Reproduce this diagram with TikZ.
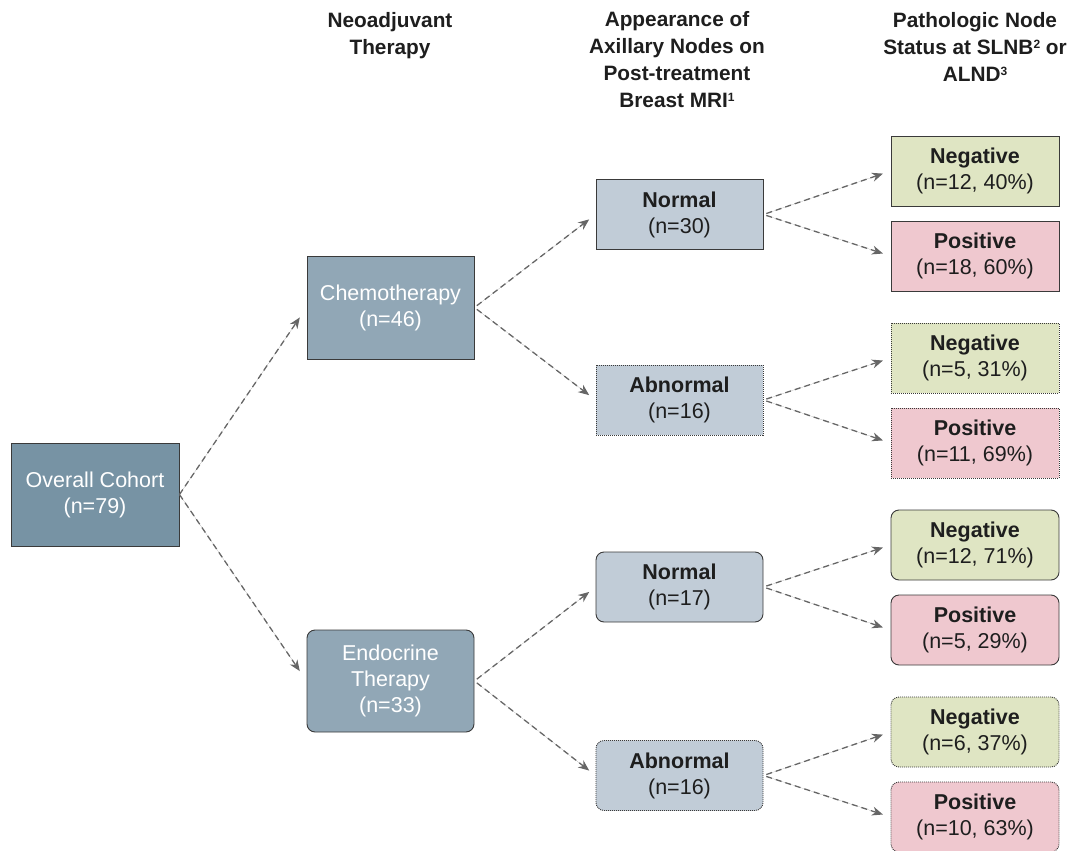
\documentclass[tikz,border=0pt]{standalone}
\usepackage{fontspec}
\setmainfont{Liberation Sans}
\usepackage{tikz}
\usetikzlibrary{arrows.meta}
\definecolor{cohortfill}{HTML}{7793A4}
\definecolor{therapyfill}{HTML}{91A7B6}
\definecolor{mrifill}{HTML}{C1CCD7}
\definecolor{negfill}{HTML}{DFE5C3}
\definecolor{posfill}{HTML}{EFC8CF}
\definecolor{boxline}{HTML}{3A3A3A}
\definecolor{arrowgray}{HTML}{666666}
\definecolor{inktext}{HTML}{1E1E1E}
\newcommand{\noteref}[1]{\raisebox{0.55ex}{\fontsize{12}{12}\selectfont #1}}

\begin{document}
\begin{tikzpicture}[x=1pt,y=-1pt,>={Stealth[length=11pt,width=9pt]},
                    font=\fontsize{21.5}{26}\selectfont]
\tikzstyle{box}=[draw=boxline,line width=0.9pt,inner sep=0pt,align=center,
                 minimum width=167pt]
\tikzstyle{bigbox}=[box,minimum height=103pt,fill=therapyfill,text=white]
\tikzstyle{smallbox}=[box,minimum height=70pt,text=inktext]
\tikzstyle{mribox}=[smallbox,fill=mrifill]
\tikzstyle{negbox}=[smallbox,fill=negfill,minimum width=168pt]
\tikzstyle{posbox}=[smallbox,fill=posfill,minimum width=168pt]
\tikzstyle{dots}=[dash pattern=on 1pt off 1pt]
\tikzstyle{soft}=[rounded corners=8pt]
\tikzstyle{flow}=[->,draw=arrowgray,fill=arrowgray,line width=1.3pt,
                  dash pattern=on 6pt off 4pt,shorten <=3pt,shorten >=8pt]
\tikzstyle{header}=[font=\fontsize{20.8}{27}\selectfont\bfseries,align=center,
                    text=inktext]
\useasboundingbox (0,0) rectangle (1071,851);

% column titles
\node[header] (hdrtherapy) at (390,36) {Neoadjuvant\\Therapy};
\node[header] (hdrmri) at (677,60) {Appearance of\\Axillary Nodes on\\Post-treatment\\Breast MRI\noteref{1}};
\node[header] (hdrpath) at (975,47) {Pathologic Node\\Status at SLNB\noteref{2} or\\ALND\noteref{3}};

% tree
\node[bigbox,fill=cohortfill,minimum width=168pt] (cohort) at (95,494.5) {Overall Cohort\\(n=79)};
\node[bigbox] (chemo) at (390.5,307.5) {Chemotherapy\\(n=46)};
\node[bigbox,soft,minimum height=102pt] (endo) at (390.5,681) {Endocrine\\Therapy\\(n=33)};

\node[mribox] (normA) at (679.5,214.5) {\textbf{Normal}\\(n=30)};
\node[mribox,dots] (abnA) at (679.5,400) {\textbf{Abnormal}\\(n=16)};
\node[mribox,soft] (normB) at (679.5,587) {\textbf{Normal}\\(n=17)};
\node[mribox,soft,dots] (abnB) at (679.5,775.5) {\textbf{Abnormal}\\(n=16)};

\node[negbox] (negA) at (975,171) {\textbf{Negative}\\(n=12, 40\%)};
\node[posbox] (posA) at (975,256) {\textbf{Positive}\\(n=18, 60\%)};
\node[negbox,dots] (negB) at (975,358) {\textbf{Negative}\\(n=5, 31\%)};
\node[posbox,dots] (posB) at (975,443) {\textbf{Positive}\\(n=11, 69\%)};
\node[negbox,soft] (negC) at (975,545) {\textbf{Negative}\\(n=12, 71\%)};
\node[posbox,soft] (posC) at (975,630) {\textbf{Positive}\\(n=5, 29\%)};
\node[negbox,soft,dots] (negD) at (975,732) {\textbf{Negative}\\(n=6, 37\%)};
\node[posbox,soft,dots] (posD) at (975,817) {\textbf{Positive}\\(n=10, 63\%)};

\draw[flow,shorten <=0pt,shorten >=12pt] (cohort.east) -- (chemo.west);
\draw[flow,shorten <=0pt,shorten >=12pt] (cohort.east) -- (endo.west);
\draw[flow] (chemo.east) -- (normA.west);
\draw[flow] (chemo.east) -- (abnA.west);
\draw[flow] (endo.east) -- (normB.west);
\draw[flow] (endo.east) -- (abnB.west);
\draw[flow] (normA.east) -- (negA.west);
\draw[flow] (normA.east) -- (posA.west);
\draw[flow] (abnA.east) -- (negB.west);
\draw[flow] (abnA.east) -- (posB.west);
\draw[flow] (normB.east) -- (negC.west);
\draw[flow] (normB.east) -- (posC.west);
\draw[flow] (abnB.east) -- (negD.west);
\draw[flow] (abnB.east) -- (posD.west);
\end{tikzpicture}
\end{document}
